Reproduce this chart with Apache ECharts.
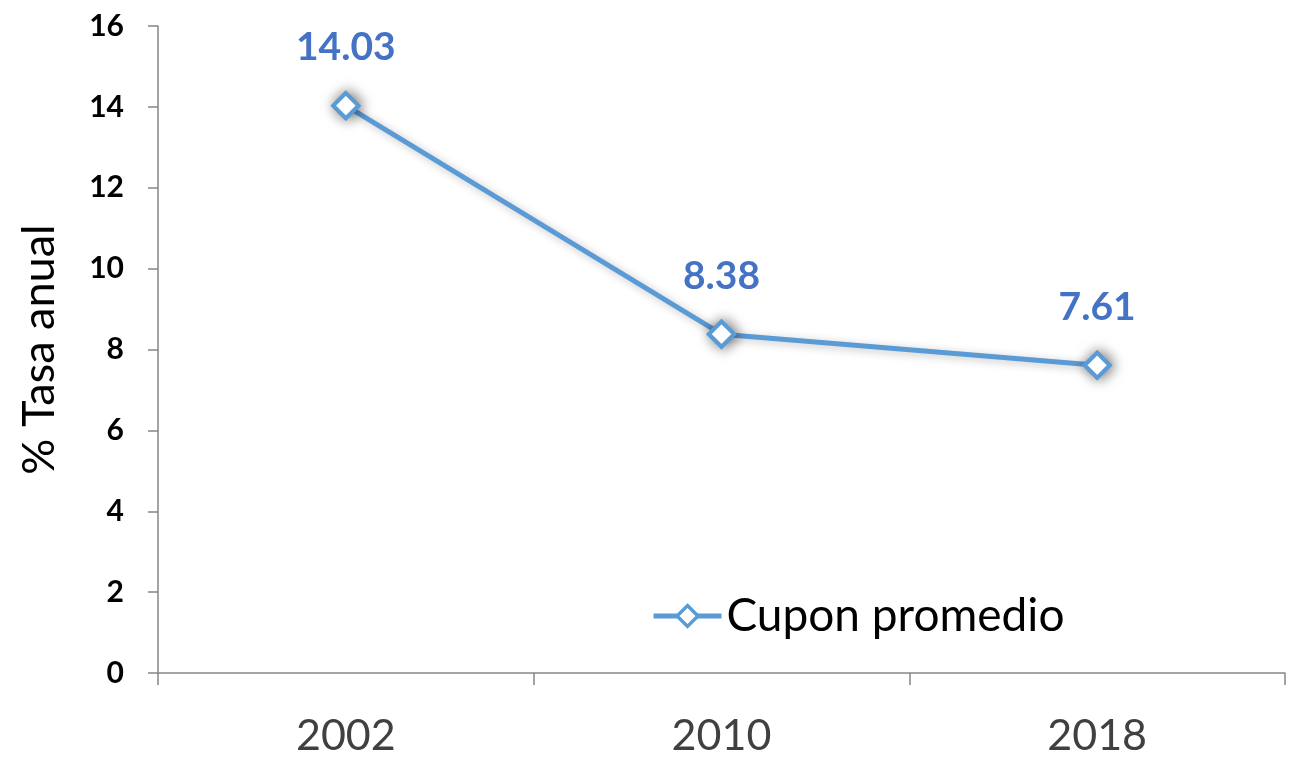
<!DOCTYPE html>
<html>
<head>
<meta charset="utf-8">
<script src="https://cdn.jsdelivr.net/npm/echarts@6/dist/echarts.min.js"></script>
<style>
  html, body { margin: 0; padding: 0; background: #fff; }
  #chart { width: 1298px; height: 761px; }
</style>
</head>
<body>
<div id="chart"></div>
<script>
// datos
const years = ['2002', '2010', '2018'];
const cuponPromedio = [14.03, 8.38, 7.61];
const seriesName = 'Cupon promedio';

const chart = echarts.init(document.getElementById('chart'));

const option = {
  animation: false,
  textStyle: { fontFamily: 'Lato, "Open Sans", sans-serif' },
  grid: { left: 158, right: 13, top: 26, bottom: 88 },
  legend: {
    data: [seriesName],
    left: 646,
    top: 588,
    itemWidth: 68,
    itemHeight: 26,
    itemGap: 0,
    lineStyle: { width: 5, color: '#5B9BD5' },
    itemStyle: { color: '#fff', borderColor: '#5B9BD5', borderWidth: 3.5 },
    textStyle: { fontSize: 46, color: '#000', fontFamily: 'Lato, sans-serif', padding: [0, 0, 0, 0] }
  },
  xAxis: {
    type: 'category',
    data: years,
    boundaryGap: true,
    axisLine: { lineStyle: { color: '#868686', width: 1.5 } },
    axisTick: { show: true, length: 12, lineStyle: { color: '#868686', width: 1.5 } },
    axisLabel: { fontSize: 43, color: '#404040', margin: 42 }
  },
  yAxis: {
    type: 'value',
    min: 0,
    max: 16,
    interval: 2,
    name: '% Tasa anual',
    nameLocation: 'middle',
    nameGap: 96,
    nameTextStyle: { fontSize: 45, color: '#000' },
    axisLine: { show: true, lineStyle: { color: '#868686', width: 1.5 } },
    axisTick: { show: true, length: 10, lineStyle: { color: '#868686', width: 1.5 } },
    splitLine: { show: false },
    axisLabel: { fontSize: 30, fontWeight: 'bold', color: '#000', margin: 34 }
  },
  series: [
    {
      name: seriesName,
      type: 'line',
      data: cuponPromedio,
      symbol: 'diamond',
      symbolSize: 25,
      lineStyle: { color: '#5B9BD5', width: 5, shadowColor: 'rgba(0,0,0,0.25)', shadowBlur: 8, shadowOffsetX: 2, shadowOffsetY: 2 },
      itemStyle: { color: '#fff', borderColor: '#5B9BD5', borderWidth: 4, shadowColor: 'rgba(0,0,0,0.55)', shadowBlur: 14, shadowOffsetX: 2, shadowOffsetY: 0 },
      label: {
        show: true,
        position: 'top',
        distance: 24,
        fontSize: 39,
        fontWeight: 'bold',
        color: '#4472C4',
        formatter: p => p.value.toFixed(2)
      }
    },
    {
      // capa de marcadores sin sombra (relleno blanco limpio)
      name: 'marcadores',
      type: 'line',
      data: cuponPromedio,
      silent: true,
      z: 5,
      symbol: 'diamond',
      symbolSize: 25,
      lineStyle: { opacity: 0 },
      itemStyle: { color: '#fff', borderColor: '#5B9BD5', borderWidth: 4 },
      label: { show: false }
    }
  ]
};

chart.setOption(option);
</script>
</body>
</html>
